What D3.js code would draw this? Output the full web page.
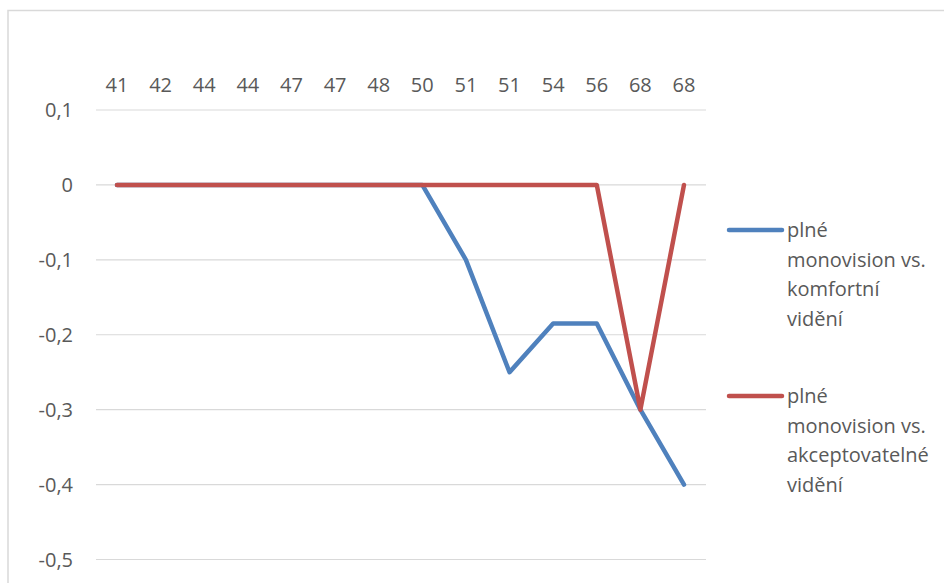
<!DOCTYPE html>
<html>
<head>
<meta charset="utf-8">
<script src="https://cdn.jsdelivr.net/npm/d3@7"></script>
<style>
  body { margin: 0; background: #fff; }
  text { font-family: "Open Sans", sans-serif; fill: #595959; }
</style>
</head>
<body>
<svg id="chart" width="944" height="583"></svg>
<script>
const MARGINTOP    = 110;
const MARGINLEFT   = 96;
const PLOTRIGHT    = 706;
const PLOTBOTTOM   = 559.5;
const FONTSIZE     = 20;

// x categories (ages)
var categories = ["41","42","44","44","47","47","48","50","51","51","54","56","68","68"];
var blueValues = [0,0,0,0,0,0,0,0,-0.1,-0.25,-0.185,-0.185,-0.3,-0.4];
var redValues  = [0,0,0,0,0,0,0,0,0,0,0,0,-0.3,0];
var yTicks     = [0.1,0,-0.1,-0.2,-0.3,-0.4,-0.5];
var seriesNames = [
    ["plné","monovision vs.","komfortní","vidění"],
    ["plné","monovision vs.","akceptovatelné","vidění"]
];
var seriesColours = ["#4f81bd","#c0504d"];

var vis = d3.select("#chart");

// outer chart frame
vis.append("path")
    .attr("d","M8,583 V10.5 H944")
    .attr("fill","none")
    .attr("stroke","#d9d9d9")
    .attr("stroke-width",1.5);

var xRange = d3.scalePoint()
    .domain(d3.range(categories.length))
    .range([117, 684]);

var yRange = d3.scaleLinear()
    .domain([-0.5, 0.1])
    .range([PLOTBOTTOM, MARGINTOP]);

// gridlines
vis.append("g").selectAll("line")
    .data(yTicks)
    .join("line")
    .attr("x1", MARGINLEFT)
    .attr("x2", PLOTRIGHT)
    .attr("y1", d => yRange(d))
    .attr("y2", d => yRange(d))
    .attr("stroke", "#d9d9d9")
    .attr("stroke-width", 1.2);

// y labels
vis.append("g").selectAll("text")
    .data(yTicks)
    .join("text")
    .attr("x", 73)
    .attr("y", d => yRange(d))
    .attr("dy", "0.35em")
    .attr("text-anchor", "end")
    .attr("font-size", FONTSIZE)
    .text(d => d === 0 ? "0" : d3.format(".1f")(d).replace(".", ",").replace("−","-"));

// x labels along the top
vis.append("g").selectAll("text")
    .data(categories)
    .join("text")
    .attr("x", (d,i) => xRange(i))
    .attr("y", 85)
    .attr("dy", "0.35em")
    .attr("text-anchor", "middle")
    .attr("font-size", FONTSIZE)
    .text(d => d);

var line = d3.line()
    .x((d,i) => xRange(i))
    .y(d => yRange(d));

[blueValues, redValues].forEach(function(vals, index){
    vis.append("path")
        .datum(vals)
        .attr("d", line)
        .attr("fill", "none")
        .attr("stroke", seriesColours[index])
        .attr("stroke-width", 4.5)
        .attr("stroke-linejoin", "round")
        .attr("stroke-linecap", "round");
});

// legend
var legendY = [230, 396];
seriesNames.forEach(function(lines, index){
    var g = vis.append("g");
    g.append("line")
        .attr("x1", 729).attr("x2", 782)
        .attr("y1", legendY[index]).attr("y2", legendY[index])
        .attr("stroke", seriesColours[index])
        .attr("stroke-width", 4.5)
        .attr("stroke-linecap", "round");
    lines.forEach(function(t, j){
        g.append("text")
            .attr("x", 787)
            .attr("y", legendY[index] + j * 29.5)
            .attr("dy", "0.35em")
            .attr("font-size", FONTSIZE)
            .text(t);
    });
});
</script>
</body>
</html>
